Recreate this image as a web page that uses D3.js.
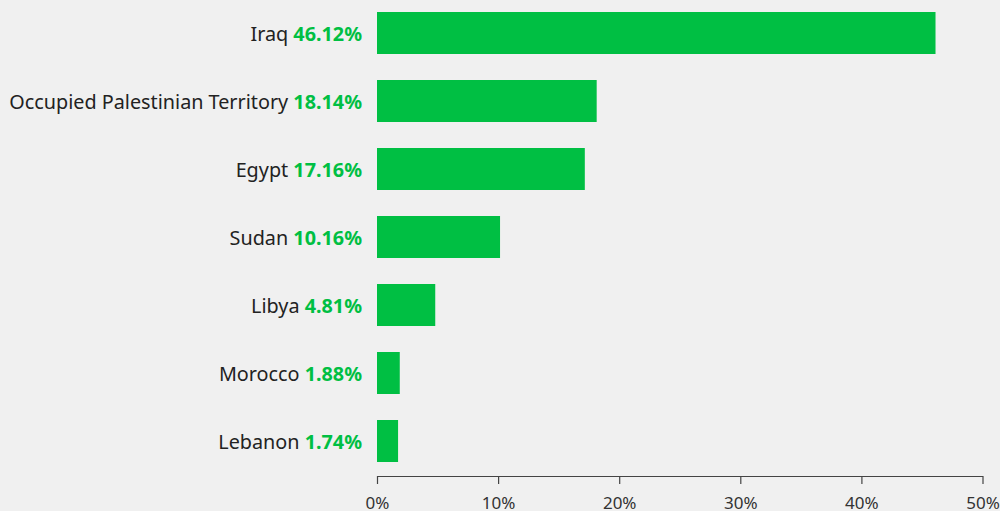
<!DOCTYPE html>
<html><head><meta charset="utf-8">
<script src="https://cdn.jsdelivr.net/npm/d3@7"></script>
<style>
html,body{margin:0;padding:0;background:#f0f0f0;}
svg{display:block;}
</style></head>
<body>
<svg id="c" width="1000" height="511"></svg>
<script>
const countries = ["Iraq","Occupied Palestinian Territory","Egypt","Sudan","Libya","Morocco","Lebanon"];
const shares = [46.12,18.14,17.16,10.16,4.81,1.88,1.74];
const tickValues = [0,10,20,30,40,50];

const svg = d3.select("#c");
const green = "#00bf43";
const x = d3.scaleLinear().domain([0,50]).range([377,982.5]);
const y = d3.scaleBand().domain(countries).range([12,462]).paddingInner(26/68).paddingOuter(0);

svg.append("rect").attr("width",1000).attr("height",511).attr("fill","#f0f0f0");

svg.selectAll("rect.bar").data(countries).enter().append("rect")
  .attr("class","bar")
  .attr("x", x(0))
  .attr("y", d=>y(d))
  .attr("width", (d,i)=>x(shares[i])-x(0))
  .attr("height", y.bandwidth())
  .attr("fill", green);

const lab = svg.selectAll("text.lab").data(countries).enter().append("text")
  .attr("class","lab")
  .attr("x", x(0)-15)
  .attr("y", d=>y(d)+y.bandwidth()/2)
  .attr("dy","0.42em")
  .attr("text-anchor","end")
  .style("font-family","'Noto Sans', sans-serif")
  .style("font-size","19.8px");
lab.append("tspan").attr("fill","#222").text(d=>d+" ");
lab.append("tspan").attr("fill",green).attr("font-weight","bold").text((d,i)=>shares[i].toFixed(2)+"%");

const ax = svg.append("g").attr("transform","translate(0,476)")
  .call(d3.axisBottom(x).tickValues(tickValues).tickFormat(d=>d+"%").tickSize(8).tickSizeOuter(0));
ax.select(".domain").attr("stroke","#444").attr("stroke-width",1.2);
ax.selectAll(".tick line").attr("stroke","#444").attr("stroke-width",1.2);
ax.selectAll(".tick text").attr("fill","#333").attr("y",21)
  .style("font-family","'Noto Sans', sans-serif").style("font-size","17px");
</script>
</body></html>
